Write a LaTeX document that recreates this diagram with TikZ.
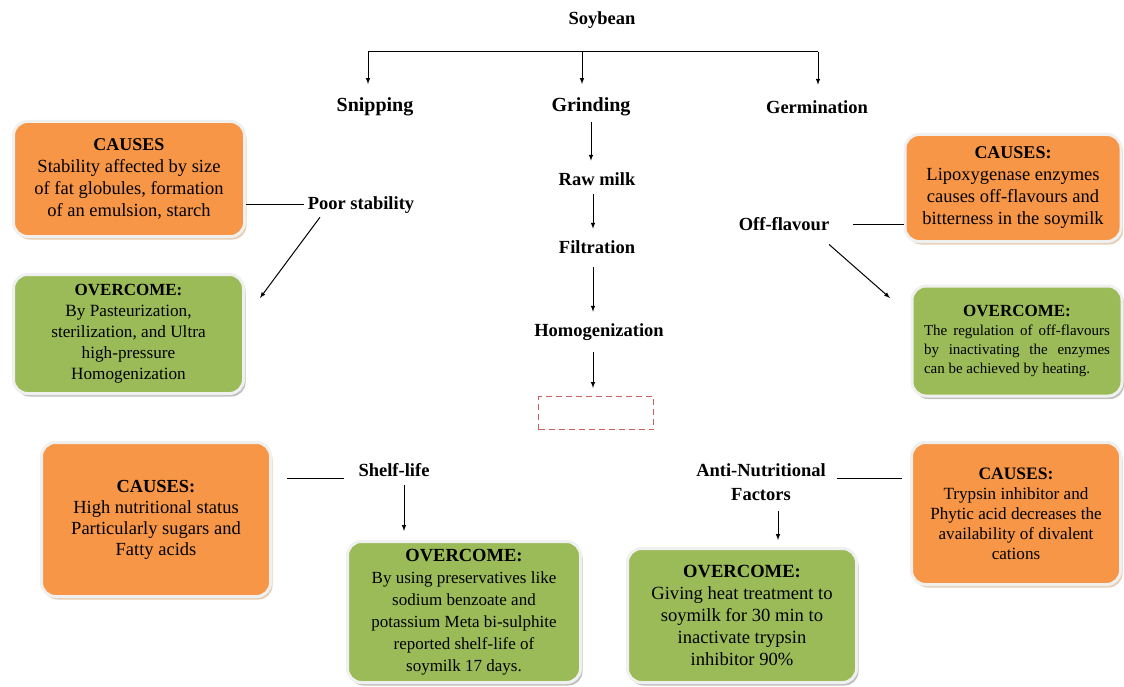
\documentclass[tikz,border=0pt]{standalone}
\usepackage{fontspec}
\setmainfont{Liberation Serif}
\usetikzlibrary{arrows,positioning,shadows}

\definecolor{causeorange}{RGB}{247,150,70}
\definecolor{overgreen}{RGB}{155,187,89}
\definecolor{dashred}{RGB}{205,95,92}
\definecolor{rimgray}{RGB}{240,240,240}

\newcommand{\cardhead}[2][18]{{\fontsize{#1}{22}\selectfont\bfseries #2}}

\begin{document}
\begin{tikzpicture}[x=1pt,y=-1pt,>=latex,line width=1pt,on grid]
       \tikzstyle{lbl}=[font=\fontsize{18.5}{24}\selectfont\bfseries, align=center]
       \tikzstyle{biglbl}=[lbl, font=\fontsize{20}{24}\selectfont\bfseries]
       \tikzstyle{flow}=[->, shorten <=2pt, shorten >=8pt]
       \tikzstyle{card}=[rounded corners=14pt, draw=rimgray, line width=3pt, align=center, inner sep=2pt, font=\fontsize{18.5}{22}\selectfont]
       \tikzstyle{causes}=[card, fill=causeorange, drop shadow={shadow xshift=2pt, shadow yshift=-3pt, fill=brown!70!white, opacity=.55}]
       \tikzstyle{overcome}=[card, fill=overgreen, drop shadow={shadow xshift=2pt, shadow yshift=-3pt, fill=black!45, opacity=.55}]

       \useasboundingbox (0,0) rectangle (1124,687);

       % process column
       \node[lbl] (soy) at (602,20) {Soybean};
       \node[biglbl] (snip) at (375,107) {Snipping};
       \node[biglbl] (grind) at (591,107) {Grinding};
       \node[lbl] (germ) at (817,107) {Germination};
       \node[lbl] (raw) [below=72pt of grind, xshift=6pt] {Raw milk};
       \node[lbl] (filt) [below=68pt of raw] {Filtration};
       \node[lbl] (homog) [below=85pt of filt, xshift=2pt] {Homogenization};
       \node[draw=dashred, dashed, dash pattern=on 6pt off 4pt, line width=1.1pt, minimum width=115pt, minimum height=33pt] (blank) [below=81pt of homog, xshift=-3pt] {};

       \coordinate (barL) at (368,52);
       \coordinate (barM) at (582,52);
       \coordinate (barR) at (818,52);
       \draw (barL) -- (barR);
       \draw[->, shorten >=10pt] (barL) -- (barL |- snip.north);
       \draw[->, shorten >=10pt] (barM) -- (barM |- grind.north);
       \draw[->, shorten >=12pt] (barR) -- (barR |- germ.north);

       \draw[flow] (grind) -- (grind |- raw.north);
       \draw[flow, shorten <=5pt] ([xshift=-4pt]raw.south) -- ([xshift=-4pt]raw.south |- filt.north);
       \draw[flow, shorten <=10pt] ([xshift=-4pt]filt.south) -- ([xshift=-4pt]filt.south |- homog.north);
       \draw[flow, shorten <=8pt] ([xshift=-6pt]homog.south) -- ([xshift=-6pt]homog.south |- blank.north);

       % snipping
       \node[lbl] (poor) at (361,205) {Poor stability};
       \node[causes, minimum width=231pt, minimum height=115pt] (cause1) at (129,179)
              {\cardhead{CAUSES}\\ Stability affected by size\\ of fat globules, formation\\ of an emulsion, starch};
       \node[overcome, minimum width=230pt, minimum height=119pt, font=\fontsize{17.2}{21}\selectfont] (over1) at (128.5,334)
              {\cardhead[17]{OVERCOME:}\\ By Pasteurization,\\ sterilization, and Ultra\\ high-pressure\\ Homogenization};
       \coordinate (poorTip) at (260,298);
       \draw (poor.west) -- (poor.west -| cause1.east);
       \draw[->] ([xshift=16pt]poor.south west) -- (poorTip);

       % germination
       \node[lbl] (off) at (784,224) {Off-flavour};
       \node[causes, minimum width=216pt, minimum height=107pt] (cause2) at (1013,188)
              {\cardhead{CAUSES:}\\ Lipoxygenase enzymes\\ causes off-flavours and\\ bitterness in the soymilk};
       \node[overcome, minimum width=210pt, minimum height=110pt, text width=186pt, align=justify, font=\fontsize{15}{19}\selectfont] (over2) at (1017,341)
              {{\centering\cardhead[17]{OVERCOME:}\par}The regulation of off-flavours by inactivating the enzymes\linebreak can be achieved by heating.};
       \coordinate (offTip) at (890,298);
       \draw[shorten <=20pt] (off.east) -- (off.east -| cause2.west);
       \draw[->] ([shift={(-4pt,-10pt)}]off.south east) -- (offTip);

       % shelf-life
       \node[lbl] (shelf) at (394,470) {Shelf-life};
       \node[causes, minimum width=229pt, minimum height=154pt, font=\fontsize{18.5}{21}\selectfont] (cause3) at (156,519.5)
              {\cardhead[18.4]{CAUSES:}\\ High nutritional status\\ Particularly sugars and\\ Fatty acids};
       \node[overcome, minimum width=233pt, minimum height=141pt, font=\fontsize{17}{22}\selectfont] (over3) at (464,612)
              {\cardhead[18.5]{OVERCOME:}\\ By using preservatives like\\ sodium benzoate and\\ potassium Meta bi-sulphite\\ reported shelf-life of\\ soymilk 17 days.};
       \draw[shorten <=11pt, shorten >=15pt] ([yshift=-8pt]shelf.west) -- ([yshift=-8pt]shelf.west -| cause3.east);
       \draw[->, shorten <=5pt, shorten >=9pt] ([xshift=10pt]shelf.south) -- ([xshift=10pt]shelf.south |- over3.north);

       % anti-nutritional factors
       \node[lbl] (anti) at (761,482) {Anti-Nutritional\\Factors};
       \node[causes, minimum width=209pt, minimum height=142pt, font=\fontsize{17.1}{20}\selectfont] (cause4) at (1016,513.5)
              {\cardhead[17.5]{CAUSES:}\\ Trypsin inhibitor and\\ Phytic acid decreases the\\ availability of divalent\\ cations};
       \node[overcome, minimum width=229pt, minimum height=134pt, font=\fontsize{18.6}{22}\selectfont] (over4) at (742,615.5)
              {\cardhead[18.6]{OVERCOME:}\\ Giving heat treatment to\\ soymilk for 30 min to\\ inactivate trypsin\\ inhibitor 90\%};
       \draw[shorten <=7pt, shorten >=8pt] ([yshift=4pt]anti.east) -- ([yshift=4pt]anti.east -| cause4.west);
       \draw[->, shorten <=7pt, shorten >=7pt] ([xshift=17pt]anti.south) -- ([xshift=17pt]anti.south |- over4.north);
\end{tikzpicture}
\end{document}
